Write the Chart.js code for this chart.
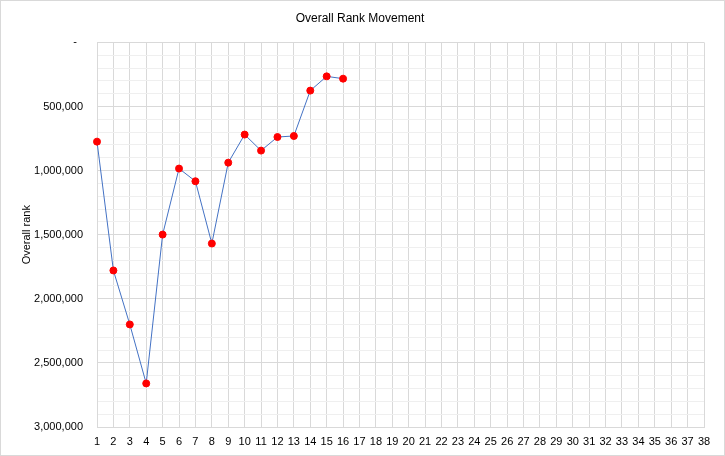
<!DOCTYPE html>
<html>
<head>
<meta charset="utf-8">
<script src="https://cdn.jsdelivr.net/npm/chart.js@4/dist/chart.umd.min.js"></script>
<style>
html,body{margin:0;padding:0;background:#fff;}
#wrap{position:absolute;left:0;top:0;width:723px;height:454px;border:1px solid #d9d9d9;background:#fff;}
</style>
</head>
<body>
<div id="wrap"><canvas id="c" width="723" height="454"></canvas></div>
<script>
const gameweeks = Array.from({length: 38}, (_, i) => String(i + 1));
const overallRank = [774000, 1779000, 2200000, 2660000, 1499000, 984000, 1083000, 1569000, 938000, 719000, 844000, 738000, 730000, 376000, 265000, 283000];
const chartTitle = 'Overall Rank Movement';
const yAxisTitle = 'Overall rank';

const FONT = '"Liberation Sans", Arial, sans-serif';
new Chart(document.getElementById('c'), {
  type: 'line',
  data: {
    labels: gameweeks,
    datasets: [{
      data: overallRank,
      borderColor: '#4472c4',
      borderWidth: 1,
      pointBackgroundColor: '#ff0000',
      pointBorderColor: '#ff0000',
      pointRadius: 3.5,
      pointHoverRadius: 3.5,
      tension: 0
    }]
  },
  options: {
    responsive: false,
    animation: false,
    layout: {padding: {left: 15, right: 20, top: 8, bottom: 6}},
    plugins: {
      legend: {display: false},
      tooltip: {enabled: false},
      title: {display: true, text: chartTitle, color: '#000', font: {family: FONT, size: 12, weight: 'normal'}, padding: {top: 2, bottom: 17}}
    },
    scales: {
      x: {
        offset: false,
        grid: {color: '#d9d9d9', drawTicks: false},
        border: {color: '#d9d9d9'},
        ticks: {color: '#000', font: {family: FONT, size: 11}, autoSkip: false, maxRotation: 0, padding: 8},
        afterFit: s => { s.height = 22; }
      },
      y: {
        reverse: true,
        min: 0,
        max: 3000000,
        title: {display: true, text: yAxisTitle, color: '#000', font: {family: FONT, size: 11}, padding: {bottom: 6}},
        grid: {
          drawTicks: false,
          color: ctx => (ctx.tick && ctx.tick.value % 500000 === 0) ? '#d9d9d9' : '#efefef'
        },
        border: {color: '#d9d9d9'},
        ticks: {
          stepSize: 100000,
          autoSkip: false,
          color: '#000',
          font: {family: FONT, size: 11},
          padding: 14,
          callback: v => v === 0 ? '-  ' : (v % 500000 === 0 ? v.toLocaleString('en-US') : '')
        },
        afterFit: s => { s.width = 81; }
      }
    }
  }
});
</script>
</body>
</html>
